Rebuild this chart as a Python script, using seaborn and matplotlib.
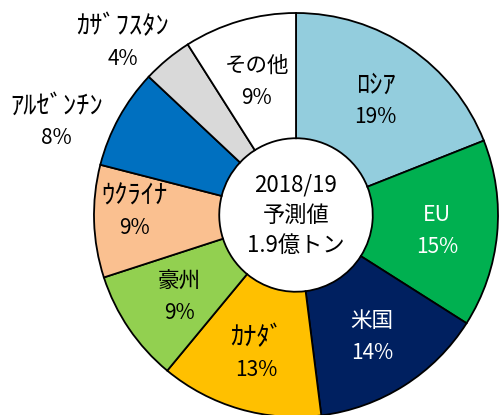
import numpy as np
import matplotlib
matplotlib.use('Agg')
import matplotlib.pyplot as plt
import seaborn as sns

sns.set_theme(style='white')
plt.rcParams['font.family'] = ['Noto Sans CJK JP', 'DejaVu Sans']

# data (clockwise from 12 o'clock)
countries = ['ﾛｼｱ', 'EU', '米国', 'ｶﾅﾀﾞ', '豪州', 'ｳｸﾗｲﾅ', 'ｱﾙｾﾞﾝﾁﾝ', 'ｶｻﾞﾌｽﾀﾝ', 'その他']
shares = [19, 15, 14, 13, 9, 9, 8, 4, 9]
colors = ['#93CDDD', '#00B050', '#002060', '#FFC000', '#92D050',
          '#FAC090', '#0070C0', '#D9D9D9', '#FFFFFF']
text_colors = ['black', 'white', 'white', 'black', 'black', 'black', 'black', 'black', 'black']
center_lines = ['2018/19', '予測値', '1.9億トン']

# label placement tweaks: (radius, angle shift in degrees)
label_pos = {'ｱﾙｾﾞﾝﾁﾝ': (1.275, 7), 'ｶｻﾞﾌｽﾀﾝ': (1.22, 5), 'ｳｸﾗｲﾅ': (0.80, -4)}


def is_halfwidth(s):
    return any('\uff61' <= ch <= '\uff9f' for ch in s)


fig = plt.figure(figsize=(4.99, 4.15), dpi=100)
ax = fig.add_axes([0, 0, 1, 1])

wedges, _ = ax.pie(shares, colors=colors, startangle=90, counterclock=False,
                   radius=1.0, wedgeprops=dict(width=0.62, edgecolor='black', linewidth=1.3))

scale = 202.0  # px per unit radius
cx, cy = 296, 200
ax.set_xlim(-cx / scale, (499 - cx) / scale)
ax.set_ylim(-cy / scale, (415 - cy) / scale)
ax.set_aspect('auto')
ax.axis('off')

total = sum(shares)
cum = 0
for name, val, tc in zip(countries, shares, text_colors):
    mid = 90 - 360 * (cum + val / 2) / total
    cum += val
    r, shift = label_pos.get(name, (0.70, 0))
    ang = np.deg2rad(mid + shift)
    x, y = r * np.cos(ang), r * np.sin(ang)
    fs = 19 if is_halfwidth(name) else 15.5
    ax.annotate(name, xy=(x, y), xytext=(0, 13), textcoords='offset pixels',
                ha='center', va='center', fontsize=fs, color=tc)
    ax.annotate(f'{val}%', xy=(x, y), xytext=(0, -19), textcoords='offset pixels',
                ha='center', va='center', fontsize=15, color=tc)

for i, line in enumerate(center_lines):
    ax.annotate(line, xy=(0, 0), xytext=(0, 30 - 30 * i), textcoords='offset pixels',
                ha='center', va='center', fontsize=16, color='black')

fig.savefig('out.png', dpi=100)
